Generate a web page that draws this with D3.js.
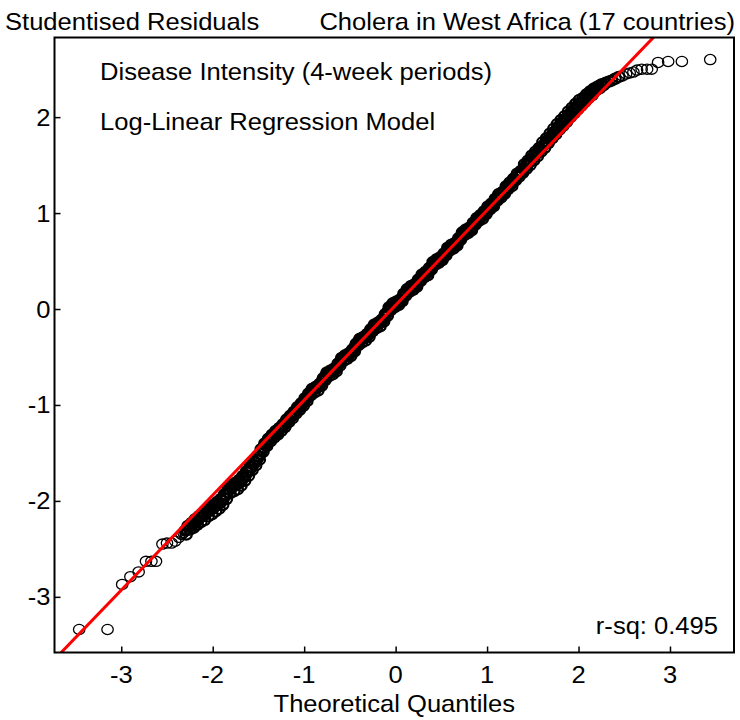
<!DOCTYPE html>
<html>
<head>
<meta charset="utf-8">
<script src="https://cdn.jsdelivr.net/npm/d3@7"></script>
<style>
  body { margin: 0; background: #fff; }
  text { font-family: "Liberation Sans", Arial, sans-serif; font-size: 24px; fill: #000; }
</style>
</head>
<body>
<script>

//Tick values on both axes
const xTicks = [-3, -2, -1, 0, 1, 2, 3];
const yTicks = [-3, -2, -1, 0, 1, 2];

//Sparse points of the lower tail [theoretical quantile, studentised residual]
const lowerTail = [
	[-3.46, -3.34], [-3.15, -3.34], [-2.99, -2.87], [-2.90, -2.79], [-2.81, -2.74],
	[-2.73, -2.63], [-2.67, -2.63], [-2.62, -2.63], [-2.55, -2.45], [-2.50, -2.44],
	[-2.45, -2.44], [-2.41, -2.42], [-2.37, -2.38], [-2.34, -2.35], [-2.32, -2.33]
];

//Dense body of the sample, read along the band
const band = [
	[-2.30, -2.31], [-2.28, -2.30], [-2.26, -2.27], [-2.24, -2.26], [-2.22, -2.25],
	[-2.20, -2.22], [-2.18, -2.21], [-2.16, -2.20], [-2.14, -2.17], [-2.12, -2.16],
	[-2.10, -2.15], [-2.08, -2.14], [-2.06, -2.11], [-2.04, -2.10], [-2.02, -2.09],
	[-2.00, -2.08], [-1.98, -2.06], [-1.96, -2.05], [-1.94, -2.03], [-1.92, -2.02],
	[-1.90, -2.00], [-1.88, -1.97], [-1.86, -1.94], [-1.84, -1.91], [-1.82, -1.88],
	[-1.80, -1.86], [-1.78, -1.85], [-1.76, -1.84], [-1.74, -1.83], [-1.72, -1.82],
	[-1.70, -1.80], [-1.68, -1.78], [-1.66, -1.75], [-1.64, -1.73], [-1.62, -1.70],
	[-1.60, -1.68], [-1.58, -1.65], [-1.56, -1.62], [-1.54, -1.60], [-1.52, -1.57],
	[-1.50, -1.54], [-1.48, -1.51], [-1.46, -1.47], [-1.44, -1.44], [-1.42, -1.41],
	[-1.40, -1.38], [-1.38, -1.36], [-1.36, -1.33], [-1.34, -1.32], [-1.32, -1.30],
	[-1.30, -1.29], [-1.28, -1.27], [-1.26, -1.24], [-1.24, -1.23], [-1.22, -1.21],
	[-1.20, -1.18], [-1.18, -1.16], [-1.16, -1.13], [-1.14, -1.12], [-1.12, -1.10],
	[-1.10, -1.07], [-1.08, -1.05], [-1.06, -1.02], [-1.04, -1.01], [-1.02, -0.99],
	[-1.00, -0.96], [-0.98, -0.94], [-0.96, -0.91], [-0.94, -0.88], [-0.92, -0.85],
	[-0.90, -0.84], [-0.88, -0.83], [-0.86, -0.82], [-0.84, -0.81], [-0.82, -0.78],
	[-0.80, -0.75], [-0.78, -0.72], [-0.76, -0.69], [-0.74, -0.67], [-0.72, -0.66],
	[-0.70, -0.65], [-0.68, -0.64], [-0.66, -0.63], [-0.64, -0.60], [-0.62, -0.57],
	[-0.60, -0.54], [-0.58, -0.51], [-0.56, -0.50], [-0.54, -0.49], [-0.52, -0.48],
	[-0.50, -0.47], [-0.48, -0.45], [-0.46, -0.42], [-0.44, -0.39], [-0.42, -0.36],
	[-0.40, -0.33], [-0.38, -0.32], [-0.36, -0.31], [-0.34, -0.30], [-0.32, -0.29],
	[-0.30, -0.27], [-0.28, -0.24], [-0.26, -0.21], [-0.24, -0.18], [-0.22, -0.17],
	[-0.20, -0.16], [-0.18, -0.15], [-0.16, -0.14], [-0.14, -0.11], [-0.12, -0.08],
	[-0.10, -0.05], [-0.08, -0.02], [-0.06, 0.01], [-0.04, 0.03], [-0.02, 0.04],
	[0.00, 0.05], [0.02, 0.06], [0.04, 0.07], [0.06, 0.09], [0.08, 0.12],
	[0.10, 0.15], [0.12, 0.18], [0.14, 0.20], [0.16, 0.21], [0.18, 0.22],
	[0.20, 0.23], [0.22, 0.24], [0.24, 0.27], [0.26, 0.30], [0.28, 0.33],
	[0.30, 0.35], [0.32, 0.36], [0.34, 0.37], [0.36, 0.39], [0.38, 0.42],
	[0.40, 0.45], [0.42, 0.48], [0.44, 0.49], [0.46, 0.50], [0.48, 0.51],
	[0.50, 0.52], [0.52, 0.55], [0.54, 0.57], [0.56, 0.60], [0.58, 0.63],
	[0.60, 0.64], [0.62, 0.65], [0.64, 0.66], [0.66, 0.67], [0.68, 0.70],
	[0.70, 0.73], [0.72, 0.76], [0.74, 0.79], [0.76, 0.80], [0.78, 0.81],
	[0.80, 0.82], [0.82, 0.83], [0.84, 0.86], [0.86, 0.89], [0.88, 0.92],
	[0.90, 0.94], [0.92, 0.95], [0.94, 0.96], [0.96, 0.98], [0.98, 1.01],
	[1.00, 1.03], [1.02, 1.06], [1.04, 1.07], [1.06, 1.08], [1.08, 1.11],
	[1.10, 1.14], [1.12, 1.17], [1.14, 1.18], [1.16, 1.19], [1.18, 1.21],
	[1.20, 1.24], [1.22, 1.27], [1.24, 1.29], [1.26, 1.30], [1.28, 1.32],
	[1.30, 1.35], [1.32, 1.38], [1.34, 1.40], [1.36, 1.41], [1.38, 1.43],
	[1.40, 1.46], [1.42, 1.49], [1.44, 1.51], [1.46, 1.53], [1.48, 1.55],
	[1.50, 1.58], [1.52, 1.60], [1.54, 1.62], [1.56, 1.64], [1.58, 1.66],
	[1.60, 1.69], [1.62, 1.71], [1.64, 1.73], [1.66, 1.75], [1.68, 1.78],
	[1.70, 1.80], [1.72, 1.83], [1.74, 1.85], [1.76, 1.87], [1.78, 1.90],
	[1.80, 1.92], [1.82, 1.94], [1.84, 1.96], [1.86, 1.98], [1.88, 2.00],
	[1.90, 2.03], [1.92, 2.05], [1.94, 2.07], [1.96, 2.09], [1.98, 2.11],
	[2.00, 2.13], [2.02, 2.15], [2.04, 2.16], [2.06, 2.18], [2.08, 2.20],
	[2.10, 2.22], [2.12, 2.24], [2.14, 2.25], [2.16, 2.27], [2.18, 2.29],
	[2.20, 2.30], [2.22, 2.31], [2.24, 2.33], [2.26, 2.34], [2.28, 2.35],
	[2.30, 2.36], [2.33, 2.37], [2.36, 2.38], [2.40, 2.40], [2.44, 2.42]
];

//Points lying between the band points above (the scatter around the body)
const bandScatter = [
	[-2.29, -2.35], [-2.27, -2.26], [-2.25, -2.30], [-2.23, -2.23], [-2.21, -2.28],
	[-2.19, -2.19], [-2.17, -2.25], [-2.15, -2.16], [-2.13, -2.22], [-2.11, -2.13],
	[-2.09, -2.20], [-2.07, -2.10], [-2.05, -2.16], [-2.03, -2.07], [-2.01, -2.14],
	[-1.99, -2.04], [-1.97, -2.11], [-1.95, -2.01], [-1.93, -2.08], [-1.91, -1.98],
	[-1.89, -2.04], [-1.87, -1.93], [-1.85, -1.98], [-1.83, -1.87], [-1.81, -1.92],
	[-1.79, -1.83], [-1.77, -1.90], [-1.75, -1.81], [-1.73, -1.88], [-1.71, -1.78],
	[-1.69, -1.84], [-1.67, -1.74], [-1.65, -1.79], [-1.63, -1.69], [-1.61, -1.74],
	[-1.59, -1.64], [-1.57, -1.68], [-1.55, -1.58], [-1.53, -1.63], [-1.51, -1.53],
	[-1.49, -1.57], [-1.47, -1.46], [-1.45, -1.49], [-1.43, -1.40], [-1.41, -1.43],
	[-1.39, -1.35], [-1.37, -1.38], [-1.35, -1.31], [-1.33, -1.34], [-1.31, -1.27],
	[-1.29, -1.31], [-1.27, -1.24], [-1.25, -1.27], [-1.23, -1.20], [-1.21, -1.23],
	[-1.19, -1.15], [-1.17, -1.18], [-1.15, -1.11], [-1.13, -1.14], [-1.11, -1.07],
	[-1.09, -1.09], [-1.07, -1.02], [-1.05, -1.05], [-1.03, -0.98], [-1.01, -1.01],
	[-0.99, -0.93], [-0.97, -0.96], [-0.95, -0.88], [-0.93, -0.90], [-0.91, -0.83],
	[-0.89, -0.87], [-0.87, -0.81], [-0.85, -0.85], [-0.83, -0.78], [-0.81, -0.80],
	[-0.79, -0.72], [-0.77, -0.74], [-0.75, -0.66], [-0.73, -0.70], [-0.71, -0.64],
	[-0.69, -0.68], [-0.67, -0.62], [-0.65, -0.65], [-0.63, -0.57], [-0.61, -0.59],
	[-0.59, -0.51], [-0.57, -0.54], [-0.55, -0.48], [-0.53, -0.52], [-0.51, -0.46],
	[-0.49, -0.49], [-0.47, -0.42], [-0.45, -0.44], [-0.43, -0.36], [-0.41, -0.38],
	[-0.39, -0.31], [-0.37, -0.35], [-0.35, -0.29], [-0.33, -0.33], [-0.31, -0.26],
	[-0.29, -0.29], [-0.27, -0.21], [-0.25, -0.23], [-0.23, -0.16], [-0.21, -0.20],
	[-0.19, -0.14], [-0.17, -0.18], [-0.15, -0.11], [-0.13, -0.13], [-0.11, -0.05],
	[-0.09, -0.07], [-0.07, 0.02], [-0.05, -0.01], [-0.03, 0.06], [-0.01, 0.02],
	[0.01, 0.08], [0.03, 0.04], [0.05, 0.10], [0.07, 0.08], [0.09, 0.16],
	[0.11, 0.14], [0.13, 0.21], [0.15, 0.18], [0.17, 0.24], [0.19, 0.20],
	[0.21, 0.26], [0.23, 0.23], [0.25, 0.31], [0.27, 0.29], [0.29, 0.36],
	[0.31, 0.33], [0.33, 0.39], [0.35, 0.35], [0.37, 0.43], [0.39, 0.41],
	[0.41, 0.49], [0.43, 0.46], [0.45, 0.52], [0.47, 0.48], [0.49, 0.54],
	[0.51, 0.51], [0.53, 0.58], [0.55, 0.56], [0.57, 0.64], [0.59, 0.61],
	[0.61, 0.67], [0.63, 0.63], [0.65, 0.69], [0.67, 0.66], [0.69, 0.74],
	[0.71, 0.72], [0.73, 0.80], [0.75, 0.77], [0.77, 0.83], [0.79, 0.79],
	[0.81, 0.85], [0.83, 0.82], [0.85, 0.90], [0.87, 0.88], [0.89, 0.95],
	[0.91, 0.92], [0.93, 0.98], [0.95, 0.94], [0.97, 1.02], [0.99, 0.99],
	[1.01, 1.07], [1.03, 1.04], [1.05, 1.10], [1.07, 1.07], [1.09, 1.15],
	[1.11, 1.13], [1.13, 1.20], [1.15, 1.16], [1.17, 1.22], [1.19, 1.20],
	[1.21, 1.28], [1.23, 1.25], [1.25, 1.32], [1.27, 1.28], [1.29, 1.36],
	[1.31, 1.34], [1.33, 1.41], [1.35, 1.38], [1.37, 1.44], [1.39, 1.42],
	[1.41, 1.51], [1.43, 1.46], [1.45, 1.55], [1.47, 1.50], [1.49, 1.60],
	[1.51, 1.55], [1.53, 1.64], [1.55, 1.59], [1.57, 1.68], [1.59, 1.64],
	[1.61, 1.74], [1.63, 1.68], [1.65, 1.78], [1.67, 1.73], [1.69, 1.83],
	[1.71, 1.78], [1.73, 1.88], [1.75, 1.82], [1.77, 1.93], [1.79, 1.87],
	[1.81, 1.97], [1.83, 1.91], [1.85, 2.01], [1.87, 1.95], [1.89, 2.06],
	[1.91, 2.00], [1.93, 2.10], [1.95, 2.04], [1.97, 2.14], [1.99, 2.08],
	[2.01, 2.18], [2.03, 2.12], [2.05, 2.20], [2.07, 2.16], [2.09, 2.24],
	[2.11, 2.20], [2.13, 2.27], [2.15, 2.23], [2.17, 2.30], [2.19, 2.28],
	[2.21, 2.32], [2.23, 2.30], [2.25, 2.34], [2.27, 2.33]
];

//Sparse points of the upper tail
const upperTail = [
	[2.48, 2.43], [2.52, 2.45], [2.56, 2.46], [2.60, 2.47], [2.64, 2.49],
	[2.69, 2.50], [2.75, 2.50], [2.80, 2.50], [2.87, 2.57], [2.98, 2.58],
	[3.13, 2.58], [3.44, 2.60]
];

//Reference line of the Q-Q plot
const fitSlope = 0.99;
const fitIntercept = 0.04;
const rSquared = "0.495";

//Page size
const width = 740;
const height = 720;

//The original text is drawn slightly wide
const textStretch = 1.065;

//Plot frame
const frame = { left: 54.5, right: 734, top: 37.5, bottom: 652.5 };

let svg = d3.select("body")
	.append("svg")
	.attr("width", width)
	.attr("height", height);

let x = d3.scaleLinear()
	.domain([-3.73, 3.70])
	.range([frame.left, frame.right]);

let y = d3.scaleLinear()
	.domain([-3.58, 2.83])
	.range([frame.bottom, frame.top]);

//Clip so nothing spills out of the frame
svg.append("clipPath")
	.attr("id", "plotClip")
	.append("rect")
	.attr("x", frame.left)
	.attr("y", frame.top)
	.attr("width", frame.right - frame.left)
	.attr("height", frame.bottom - frame.top);

let plot = svg.append("g")
	.attr("clip-path", "url(#plotClip)");

//Open circles, a little wider than tall as in the original.
//The body is far denser in the real sample, so its rings get a heavier stroke.
function drawPoints(data, cls, strokeW){
	plot.selectAll("." + cls)
		.data(data)
		.enter()
		.append("ellipse")
		.attr("class", cls)
		.attr("cx", d => x(d[0]))
		.attr("cy", d => y(d[1]))
		.attr("rx", 5.7)
		.attr("ry", 5.1)
		.attr("fill", "none")
		.attr("stroke", "#000")
		.attr("stroke-width", strokeW);
}

drawPoints(band.concat(bandScatter), "body", 2.1);
drawPoints(lowerTail.concat(upperTail), "tail", 1.3);

//Fitted red line
let xd = x.domain();
plot.append("line")
	.attr("x1", x(xd[0]))
	.attr("y1", y(fitSlope * xd[0] + fitIntercept))
	.attr("x2", x(xd[1]))
	.attr("y2", y(fitSlope * xd[1] + fitIntercept))
	.attr("stroke", "#ff0000")
	.attr("stroke-width", 3);

//Frame
svg.append("rect")
	.attr("x", frame.left)
	.attr("y", frame.top)
	.attr("width", frame.right - frame.left)
	.attr("height", frame.bottom - frame.top)
	.attr("fill", "none")
	.attr("stroke", "#000")
	.attr("stroke-width", 2);

//Axes with inward ticks
let xAxis = svg.append("g")
	.attr("transform", "translate(0," + frame.bottom + ")")
	.call(d3.axisTop(x).tickValues(xTicks).tickSize(6).tickFormat(""));
xAxis.select(".domain").remove();
xAxis.selectAll("line").attr("stroke-width", 1.5);

let yAxis = svg.append("g")
	.attr("transform", "translate(" + frame.left + ",0)")
	.call(d3.axisRight(y).tickValues(yTicks).tickSize(6).tickFormat(""));
yAxis.select(".domain").remove();
yAxis.selectAll("line").attr("stroke-width", 1.5);

//Text helper: place at (tx, ty) and widen a bit
function addText(tx, ty, str, anchor){
	return svg.append("text")
		.attr("transform", "translate(" + tx + "," + ty + ") scale(" + textStretch + ",1)")
		.attr("text-anchor", anchor || "start")
		.text(str);
}

//Tick labels
xTicks.forEach(function(t){
	addText(x(t), 683, t, "middle");
});

yTicks.forEach(function(t){
	addText(frame.left - 4, y(t) + 8.5, t, "end");
});

//Titles and notes
addText(5, 30, "Studentised Residuals");
addText(735, 30, "Cholera in West Africa (17 countries)", "end");
addText(100, 80, "Disease Intensity (4-week periods)");
addText(100, 130, "Log-Linear Regression Model");
addText(718, 634, "r-sq: " + rSquared, "end");
addText((frame.left + frame.right) / 2, 712, "Theoretical Quantiles", "middle");

</script>
</body>
</html>
